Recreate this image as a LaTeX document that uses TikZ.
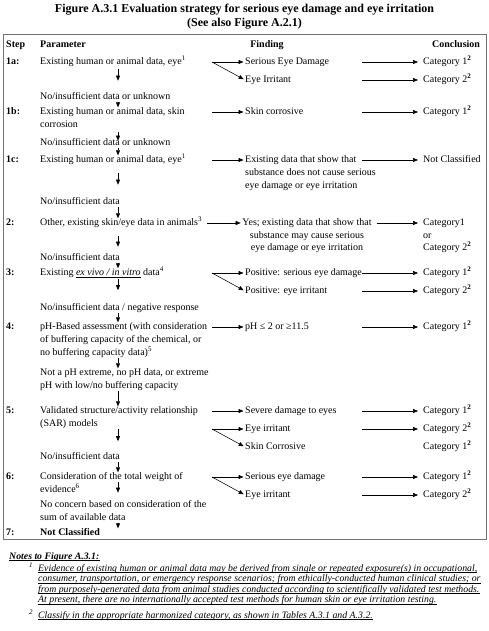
\documentclass[tikz,border=0pt]{standalone}
\usepackage{fontspec}
\setmainfont{Liberation Serif}
\usetikzlibrary{arrows.meta,calc}
\newcommand{\nsup}[1]{\textsuperscript{#1}}
\newcommand{\bsup}[1]{\textsuperscript{\textbf{#1}}}
\begin{document}
\begin{tikzpicture}[x=1pt,y=-1pt,
  txt/.style={inner sep=0pt, anchor=west, font=\fontsize{10}{12}\selectfont, text height=7pt, text depth=2pt},
  stp/.style={txt, font=\fontsize{10}{12}\selectfont\bfseries},
  ttl/.style={inner sep=0pt, font=\fontsize{12}{14}\selectfont\bfseries},
  fnt/.style={inner sep=0pt, anchor=base west, font=\fontsize{9.8}{10}\selectfont\itshape},
  frame/.style={draw=black!55, line width=0.9pt},
  arr/.style={line width=0.55pt, -{Triangle[length=5pt,width=4pt]}},
  ul/.style={line width=0.45pt}
]
\useasboundingbox (0,0) rectangle (489,631);
% title
\node[ttl] (t1) at (244.5,10) {Figure A.3.1 Evaluation strategy for serious eye damage and eye irritation};
\node[ttl] (t2) at (244.5,24) {(See also Figure A.2.1)};
\draw[frame] (3,34) rectangle (486,539);
% header
\node[stp] (hs) at (6,45) {Step};
\node[stp] (hp) at (40,45) {Parameter};
\node[stp, anchor=center] (hf) at (267,45) {Finding};
\node[stp] (hc) at (432,45) {Conclusion};
\coordinate (dx) at (118,0);
\coordinate (cx) at (362,0);
% ---- steps
\node[stp] (s1a) at (6,62) {1a:};
\node[stp] (s1b) at (6,112) {1b:};
\node[stp] (s1c) at (6,160) {1c:};
\node[stp] (s2) at (6,223) {2:};
\node[stp] (s3) at (6,273) {3:};
\node[stp] (s4) at (6,327) {4:};
\node[stp] (s5) at (6,411) {5:};
\node[stp] (s6) at (6,477) {6:};
\node[stp] (s7) at (6,533) {7:};
% ---- parameters
\node[txt] (p1a) at (40,62) {Existing human or animal data, eye\nsup{1}};
\node[txt] (l1) at (40,97) {No/insufficient data or unknown};
\node[txt] (p1b) at (40,112) {Existing human or animal data, skin};
\node[txt] (p1b2) at (40,125) {corrosion};
\node[txt] (l2) at (40,143) {No/insufficient data or unknown};
\node[txt] (p1c) at (40,160) {Existing human or animal data, eye\nsup{1}};
\node[txt] (l3) at (40,202) {No/insufficient data};
\node[txt] (p2) at (40,223) {Other, existing skin/eye data in animals\nsup{3}};
\node[txt] (l4) at (40,258) {No/insufficient data};
\node[txt] (p3) at (40,273) {Existing \underline{\textit{ex vivo / in vitro}} data\nsup{4}};
\node[txt] (l5) at (40,308) {No/insufficient data / negative response};
\node[txt] (p4) at (40,327) {pH-Based assessment (with consideration};
\node[txt] (p4b) at (40,340) {of buffering capacity of the chemical, or};
\node[txt] (p4c) at (40,353) {no buffering capacity data)\nsup{5}};
\node[txt] (l6) at (40,373) {Not a pH extreme, no pH data, or extreme};
\node[txt] (l6b) at (40,386) {pH with low/no buffering capacity};
\node[txt] (p5) at (40,411) {Validated structure/activity relationship};
\node[txt] (p5b) at (40,424) {(SAR) models};
\node[txt] (l7) at (40,457) {No/insufficient data};
\node[txt] (p6) at (40,477) {Consideration of the total weight of};
\node[txt] (p6b) at (40,490) {evidence\nsup{6}};
\node[txt] (l8) at (40,505) {No concern based on consideration of the};
\node[txt] (l8b) at (40,518) {sum of available data};
\node[stp] (p7) at (40,533) {Not Classified};
% ---- down arrows
\draw[arr] ($(dx |- p1a.south)+(0,2)$) -- ++(0,12);
\draw[arr] (dx |- l1.south) -- (dx |- p1b.north);
\draw[arr] ($(dx |- p1b2.south)+(0,2)$) -- ++(0,9);
\draw[arr] (dx |- l2.south) -- (dx |- p1c.north);
\draw[arr] ($(dx |- p1c.south)+(0,8)$) -- ++(0,12);
\draw[arr] (dx |- l3.south) -- (dx |- p2.north);
\draw[arr] ($(dx |- p2.south)+(0,8)$) -- ++(0,11);
\draw[arr] (dx |- l4.south) -- (dx |- p3.north);
\draw[arr] ($(dx |- p3.south)+(0,1.5)$) -- ++(0,11);
\draw[arr] (dx |- l5.south) -- (dx |- p4.north);
\draw[arr] (dx |- p4c.south) -- (dx |- l6.north);
\draw[arr] (dx |- l6b.south) -- (dx |- p5.north);
\draw[arr] ($(dx |- p5b.south)+(0,0.5)$) -- ++(0,12);
\draw[arr] (dx |- l7.south) -- (dx |- p6.north);
\draw[arr] (dx |- p6.south) -- ++(0,11);
\draw[arr] (dx |- l8b.south) -- (dx |- p7.north);
% ---- findings
\node[txt] (f1a) at (245,62) {Serious Eye Damage};
\node[txt] (f1a2) at (245,80) {Eye Irritant};
\node[txt] (f1b) at (245,112) {Skin corrosive};
\node[txt] (f1c) at (245,160) {Existing data that show that};
\node[txt] (f1cb) at (245,173) {substance does not cause serious};
\node[txt] (f1cc) at (245,186) {eye damage or eye irritation};
\node[txt, anchor=center] (f2) at (307,223) {Yes; existing data that show that};
\node[txt, anchor=center] (f2b) at (307,235.5) {substance may cause serious};
\node[txt, anchor=center] (f2c) at (307,248) {eye damage or eye irritation};
\node[txt] (f3) at (245,273) {Positive: serious eye damage};
\node[txt] (f3b) at (245,291) {Positive: eye irritant};
\node[txt] (f4) at (245,327) {pH ≤ 2 or ≥11.5};
\node[txt] (f5) at (245,411) {Severe damage to eyes};
\node[txt] (f5b) at (245,429) {Eye irritant};
\node[txt] (f5c) at (245,447) {Skin Corrosive};
\node[txt] (f6) at (245,477) {Serious eye damage};
\node[txt] (f6b) at (245,495) {Eye irritant};
% ---- fork points and finding arrows
\coordinate (k1a) at (212,62);
\coordinate (k1b) at (212,112);
\coordinate (k1c) at (212,160);
\coordinate (k2) at (207,223);
\coordinate (k3) at (212,273);
\coordinate (k4) at (212,327);
\coordinate (k5) at (212,411);
\coordinate (k5b) at (212,429);
\coordinate (k6) at (212,477);
\draw[arr, shorten >=1.5pt] (k1a) -- (f1a.west);
\draw[arr, shorten >=1.5pt] (k1a) -- (f1a2.west);
\draw[arr, shorten >=1.5pt] (k1b) -- (f1b.west);
\draw[arr, shorten >=1.5pt] (k1c) -- (f1c.west);
\draw[arr, shorten >=1.5pt] (k2) -- (f2.west);
\draw[arr, shorten >=1.5pt] (k3) -- (f3.west);
\draw[arr, shorten >=1.5pt] (k3) -- (f3b.west);
\draw[arr, shorten >=1.5pt] (k4) -- (f4.west);
\draw[arr, shorten >=1.5pt] (k5) -- (f5.west);
\draw[arr, shorten >=1.5pt] (k5b) -- (f5b.west);
\draw[arr, shorten >=1.5pt] (k5b) -- (f5c.west);
\draw[arr, shorten >=1.5pt] (k6) -- (f6.west);
\draw[arr, shorten >=1.5pt] (k6) -- (f6b.west);
% ---- conclusions
\node[txt] (c1a) at (423,62) {Category 1\bsup{2}};
\node[txt] (c1a2) at (423,80) {Category 2\bsup{2}};
\node[txt] (c1b) at (423,112) {Category 1\bsup{2}};
\node[txt] (c1c) at (423,160) {Not Classified};
\node[txt] (c2) at (423,223) {Category1};
\node[txt] (c2b) at (423,235.5) {or};
\node[txt] (c2c) at (423,248) {Category 2\bsup{2}};
\node[txt] (c3) at (423,273) {Category 1\bsup{2}};
\node[txt] (c3b) at (423,291) {Category 2\bsup{2}};
\node[txt] (c4) at (423,327) {Category 1\bsup{2}};
\node[txt] (c5) at (423,411) {Category 1\bsup{2}};
\node[txt] (c5b) at (423,429) {Category 2\bsup{2}};
\node[txt] (c5c) at (423,447) {Category 1\bsup{2}};
\node[txt] (c6) at (423,477) {Category 1\bsup{2}};
\node[txt] (c6b) at (423,495) {Category 2\bsup{2}};
\draw[arr, shorten >=5pt] (cx |- c1a.west) -- (c1a.west);
\draw[arr, shorten >=5pt] (cx |- c1a2.west) -- (c1a2.west);
\draw[arr, shorten >=5pt] (cx |- c1b.west) -- (c1b.west);
\draw[arr, shorten >=5pt] (cx |- c1c.west) -- (c1c.west);
\draw[arr, shorten >=5pt] ($(f2.east)+(5,0)$) -- (c2.west);
\draw[arr, shorten >=5pt] (cx |- c3.west) -- (c3.west);
\draw[arr, shorten >=5pt] (cx |- c3b.west) -- (c3b.west);
\draw[arr, shorten >=5pt] (cx |- c4.west) -- (c4.west);
\draw[arr, shorten >=5pt] (cx |- c5.west) -- (c5.west);
\draw[arr, shorten >=5pt] (cx |- c5b.west) -- (c5b.west);
\draw[arr, shorten >=5pt] (cx |- c6.west) -- (c6.west);
\draw[arr, shorten >=5pt] (cx |- c6b.west) -- (c6b.west);
% ---- notes
\node[fnt, font=\fontsize{9.8}{10}\selectfont\bfseries\itshape] (nt) at (9,559) {Notes to Figure A.3.1:};
\node[fnt] (m1) at (29,567) {\fontsize{7}{8}\selectfont 1};
\node[fnt] (n1) at (38,571) {Evidence of existing human or animal data may be derived from single or repeated exposure(s) in occupational,};
\node[fnt] (n2) at (38,581.5) {consumer, transportation, or emergency response scenarios; from ethically-conducted human clinical studies; or};
\node[fnt] (n3) at (38,592) {from purposely-generated data from animal studies conducted according to scientifically validated test methods.};
\node[fnt] (n4) at (38,602.5) {At present, there are no internationally accepted test methods for human skin or eye irritation testing.};
\node[fnt] (m2) at (29,614) {\fontsize{7}{8}\selectfont 2};
\node[fnt] (n5) at (38,618) {Classify in the appropriate harmonized category, as shown in Tables A.3.1 and A.3.2.};
\foreach \n in {nt,n1,n2,n3,n4,n5}{
  \draw[ul] ([yshift=-1.4pt]\n.base west) -- ([yshift=-1.4pt]\n.base east);
}
\end{tikzpicture}
\end{document}
